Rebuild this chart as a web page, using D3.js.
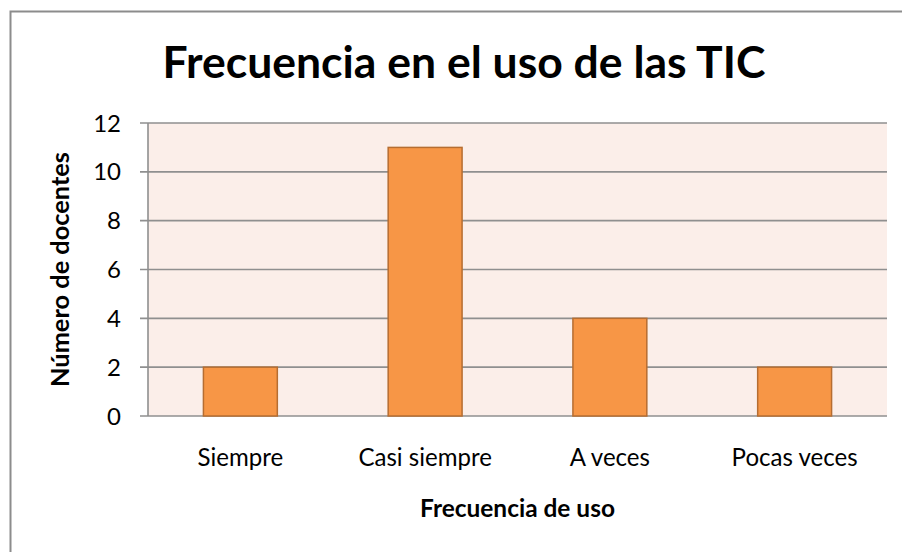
<!DOCTYPE html>
<html><head><meta charset="utf-8">
<script src="https://cdn.jsdelivr.net/npm/d3@7"></script>
<style>html,body{margin:0;padding:0;background:#fff;overflow:hidden}svg{display:block}text{font-family:Lato,"Open Sans",sans-serif;fill:#000}</style>
</head><body>
<script>
const categories = ["Siempre", "Casi siempre", "A veces", "Pocas veces"];
const values = [2, 11, 4, 2];
const yTicks = [0, 2, 4, 6, 8, 10, 12];
const title = "Frecuencia en el uso de las TIC";
const xTitle = "Frecuencia de uso";
const yTitle = "Número de docentes";

const W = 902, H = 552;
const m = {left: 148, right: 887, top: 123, bottom: 416};
const svg = d3.select("body").append("svg").attr("width", W).attr("height", H);

// outer border
svg.append("rect").attr("x", 10.5).attr("y", 11.5).attr("width", 900).attr("height", 600)
  .attr("fill", "#fff").attr("stroke", "#8c8c8c").attr("stroke-width", 2);

const x = d3.scaleBand().domain(categories).range([m.left, m.right]).paddingInner(0.6).paddingOuter(0.3);
const y = d3.scaleLinear().domain([0, 12]).range([m.bottom, m.top]);

svg.append("rect").attr("x", m.left).attr("y", m.top).attr("width", m.right - m.left).attr("height", m.bottom - m.top)
  .attr("fill", "#FBEEE9");

// gridlines
svg.append("g").selectAll("line").data(yTicks).join("line")
  .attr("x1", m.left - 8).attr("x2", m.right)
  .attr("y1", d => y(d)).attr("y2", d => y(d))
  .attr("stroke", "#8f8f8f").attr("stroke-width", 1.6);

// y axis line
svg.append("line").attr("x1", m.left).attr("x2", m.left).attr("y1", m.top).attr("y2", m.bottom)
  .attr("stroke", "#8f8f8f").attr("stroke-width", 1.6);

// tick labels
svg.append("g").selectAll("text").data(yTicks).join("text")
  .attr("x", 121).attr("y", d => y(d)).attr("dy", "0.36em").attr("text-anchor", "end")
  .attr("font-size", 24).text(d => d);

// bars
svg.append("g").selectAll("rect").data(values).join("rect")
  .attr("x", (d, i) => x(categories[i])).attr("width", x.bandwidth())
  .attr("y", d => y(d)).attr("height", d => y(0) - y(d))
  .attr("fill", "#F79646").attr("stroke", "#B66D31").attr("stroke-width", 1.5);

function fit(sel, target) {
  let fs = +sel.attr("font-size");
  const w = sel.node().getComputedTextLength();
  sel.attr("font-size", (fs * target / w).toFixed(2));
}

// category labels
const cl = svg.append("g").selectAll("text").data(categories).join("text")
  .attr("x", d => x(d) + x.bandwidth() / 2).attr("y", 466).attr("text-anchor", "middle")
  .attr("font-size", 22).text(d => d);
const probe = cl.filter((d, i) => i === 3);
fit(probe, 126);
cl.attr("font-size", probe.attr("font-size"));

const t = svg.append("text").attr("x", 464).attr("y", 78).attr("text-anchor", "middle")
  .attr("font-size", 38).attr("font-weight", "bold").text(title);
fit(t, 603);

const xt = svg.append("text").attr("x", 517.5).attr("y", 517).attr("text-anchor", "middle")
  .attr("font-size", 20).attr("font-weight", "bold").text(xTitle);
fit(xt, 195);

const yt = svg.append("text").attr("transform", `translate(69,${(m.top + m.bottom) / 2}) rotate(-90)`)
  .attr("text-anchor", "middle").attr("font-size", 20).attr("font-weight", "bold").text(yTitle);
fit(yt, 235);
</script>
</body></html>
